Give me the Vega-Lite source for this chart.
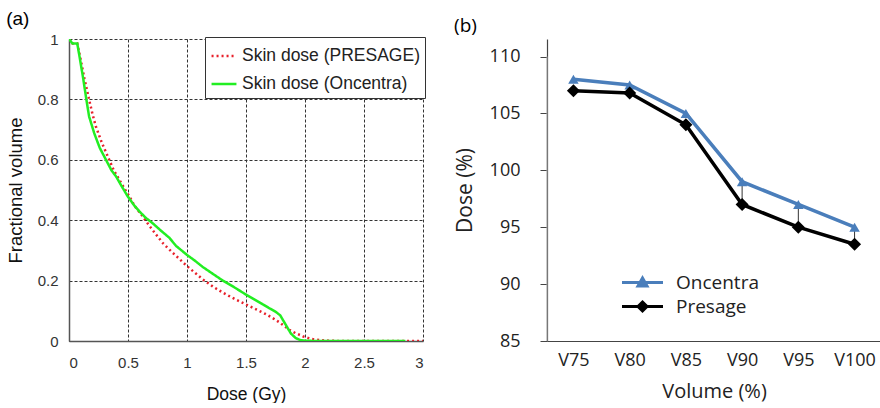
{
  "$schema": "https://vega.github.io/schema/vega-lite/v6.json",
  "padding": {"left": 6, "top": 10, "right": 0, "bottom": 0},
  "background": "white",
  "config": {"view": {"stroke": null}, "font": "Liberation Sans"},
  "spacing": 28,
  "resolve": {
    "scale": {"color": "independent", "strokeDash": "independent", "shape": "independent", "size": "independent", "stroke": "independent", "x": "independent", "y": "independent"},
    "legend": {"color": "independent", "strokeDash": "independent", "shape": "independent", "size": "independent", "stroke": "independent"}
  },
  "datasets": {
    "dvh": [
      {"series": "Skin dose (PRESAGE)", "dose": 0, "vol": 1.0},
      {"series": "Skin dose (PRESAGE)", "dose": 0.02, "vol": 0.99},
      {"series": "Skin dose (PRESAGE)", "dose": 0.03, "vol": 0.985},
      {"series": "Skin dose (PRESAGE)", "dose": 0.07, "vol": 0.985},
      {"series": "Skin dose (PRESAGE)", "dose": 0.1, "vol": 0.93},
      {"series": "Skin dose (PRESAGE)", "dose": 0.13, "vol": 0.87},
      {"series": "Skin dose (PRESAGE)", "dose": 0.17, "vol": 0.8},
      {"series": "Skin dose (PRESAGE)", "dose": 0.2, "vol": 0.75},
      {"series": "Skin dose (PRESAGE)", "dose": 0.227, "vol": 0.711},
      {"series": "Skin dose (PRESAGE)", "dose": 0.28, "vol": 0.655},
      {"series": "Skin dose (PRESAGE)", "dose": 0.34, "vol": 0.601},
      {"series": "Skin dose (PRESAGE)", "dose": 0.38, "vol": 0.565},
      {"series": "Skin dose (PRESAGE)", "dose": 0.425, "vol": 0.535},
      {"series": "Skin dose (PRESAGE)", "dose": 0.47, "vol": 0.505},
      {"series": "Skin dose (PRESAGE)", "dose": 0.51, "vol": 0.48},
      {"series": "Skin dose (PRESAGE)", "dose": 0.56, "vol": 0.445},
      {"series": "Skin dose (PRESAGE)", "dose": 0.624, "vol": 0.413},
      {"series": "Skin dose (PRESAGE)", "dose": 0.68, "vol": 0.382},
      {"series": "Skin dose (PRESAGE)", "dose": 0.737, "vol": 0.353},
      {"series": "Skin dose (PRESAGE)", "dose": 0.8, "vol": 0.322},
      {"series": "Skin dose (PRESAGE)", "dose": 0.879, "vol": 0.292},
      {"series": "Skin dose (PRESAGE)", "dose": 0.94, "vol": 0.27},
      {"series": "Skin dose (PRESAGE)", "dose": 1.0, "vol": 0.248},
      {"series": "Skin dose (PRESAGE)", "dose": 1.07, "vol": 0.225},
      {"series": "Skin dose (PRESAGE)", "dose": 1.134, "vol": 0.204},
      {"series": "Skin dose (PRESAGE)", "dose": 1.22, "vol": 0.18},
      {"series": "Skin dose (PRESAGE)", "dose": 1.304, "vol": 0.16},
      {"series": "Skin dose (PRESAGE)", "dose": 1.4, "vol": 0.14},
      {"series": "Skin dose (PRESAGE)", "dose": 1.5, "vol": 0.121},
      {"series": "Skin dose (PRESAGE)", "dose": 1.59, "vol": 0.104},
      {"series": "Skin dose (PRESAGE)", "dose": 1.673, "vol": 0.088},
      {"series": "Skin dose (PRESAGE)", "dose": 1.73, "vol": 0.075},
      {"series": "Skin dose (PRESAGE)", "dose": 1.786, "vol": 0.061},
      {"series": "Skin dose (PRESAGE)", "dose": 1.83, "vol": 0.048},
      {"series": "Skin dose (PRESAGE)", "dose": 1.871, "vol": 0.036},
      {"series": "Skin dose (PRESAGE)", "dose": 1.92, "vol": 0.026},
      {"series": "Skin dose (PRESAGE)", "dose": 1.985, "vol": 0.015},
      {"series": "Skin dose (PRESAGE)", "dose": 2.05, "vol": 0.007},
      {"series": "Skin dose (PRESAGE)", "dose": 2.12, "vol": 0.003},
      {"series": "Skin dose (PRESAGE)", "dose": 2.2, "vol": 0.001},
      {"series": "Skin dose (PRESAGE)", "dose": 2.3, "vol": 0},
      {"series": "Skin dose (PRESAGE)", "dose": 3.0, "vol": 0},
      {"series": "Skin dose (Oncentra)", "dose": 0, "vol": 1.0},
      {"series": "Skin dose (Oncentra)", "dose": 0.02, "vol": 0.99},
      {"series": "Skin dose (Oncentra)", "dose": 0.03, "vol": 0.985},
      {"series": "Skin dose (Oncentra)", "dose": 0.07, "vol": 0.985},
      {"series": "Skin dose (Oncentra)", "dose": 0.09, "vol": 0.94},
      {"series": "Skin dose (Oncentra)", "dose": 0.12, "vol": 0.87},
      {"series": "Skin dose (Oncentra)", "dose": 0.147, "vol": 0.8},
      {"series": "Skin dose (Oncentra)", "dose": 0.17, "vol": 0.744},
      {"series": "Skin dose (Oncentra)", "dose": 0.213, "vol": 0.689},
      {"series": "Skin dose (Oncentra)", "dose": 0.26, "vol": 0.64},
      {"series": "Skin dose (Oncentra)", "dose": 0.312, "vol": 0.601},
      {"series": "Skin dose (Oncentra)", "dose": 0.36, "vol": 0.565},
      {"series": "Skin dose (Oncentra)", "dose": 0.397, "vol": 0.546},
      {"series": "Skin dose (Oncentra)", "dose": 0.45, "vol": 0.51},
      {"series": "Skin dose (Oncentra)", "dose": 0.496, "vol": 0.48},
      {"series": "Skin dose (Oncentra)", "dose": 0.55, "vol": 0.45},
      {"series": "Skin dose (Oncentra)", "dose": 0.595, "vol": 0.43},
      {"series": "Skin dose (Oncentra)", "dose": 0.65, "vol": 0.408},
      {"series": "Skin dose (Oncentra)", "dose": 0.709, "vol": 0.39},
      {"series": "Skin dose (Oncentra)", "dose": 0.78, "vol": 0.365},
      {"series": "Skin dose (Oncentra)", "dose": 0.85, "vol": 0.342},
      {"series": "Skin dose (Oncentra)", "dose": 0.907, "vol": 0.315},
      {"series": "Skin dose (Oncentra)", "dose": 1.0, "vol": 0.285},
      {"series": "Skin dose (Oncentra)", "dose": 1.07, "vol": 0.265},
      {"series": "Skin dose (Oncentra)", "dose": 1.134, "vol": 0.245},
      {"series": "Skin dose (Oncentra)", "dose": 1.22, "vol": 0.222},
      {"series": "Skin dose (Oncentra)", "dose": 1.304, "vol": 0.2},
      {"series": "Skin dose (Oncentra)", "dose": 1.4, "vol": 0.178},
      {"series": "Skin dose (Oncentra)", "dose": 1.49, "vol": 0.156},
      {"series": "Skin dose (Oncentra)", "dose": 1.57, "vol": 0.138},
      {"series": "Skin dose (Oncentra)", "dose": 1.644, "vol": 0.121},
      {"series": "Skin dose (Oncentra)", "dose": 1.7, "vol": 0.108},
      {"series": "Skin dose (Oncentra)", "dose": 1.754, "vol": 0.096},
      {"series": "Skin dose (Oncentra)", "dose": 1.79, "vol": 0.085},
      {"series": "Skin dose (Oncentra)", "dose": 1.82, "vol": 0.065},
      {"series": "Skin dose (Oncentra)", "dose": 1.85, "vol": 0.045},
      {"series": "Skin dose (Oncentra)", "dose": 1.88, "vol": 0.025},
      {"series": "Skin dose (Oncentra)", "dose": 1.92, "vol": 0.01},
      {"series": "Skin dose (Oncentra)", "dose": 1.96, "vol": 0.003},
      {"series": "Skin dose (Oncentra)", "dose": 2.0, "vol": 0.001},
      {"series": "Skin dose (Oncentra)", "dose": 2.1, "vol": 0},
      {"series": "Skin dose (Oncentra)", "dose": 2.85, "vol": 0}
    ],
    "bvals": [
      {"series": "Oncentra", "vol": "V75", "dose": 108},
      {"series": "Oncentra", "vol": "V80", "dose": 107.5},
      {"series": "Oncentra", "vol": "V85", "dose": 105},
      {"series": "Oncentra", "vol": "V90", "dose": 99},
      {"series": "Oncentra", "vol": "V95", "dose": 97},
      {"series": "Oncentra", "vol": "V100", "dose": 95},
      {"series": "Presage", "vol": "V75", "dose": 107},
      {"series": "Presage", "vol": "V80", "dose": 106.8},
      {"series": "Presage", "vol": "V85", "dose": 104},
      {"series": "Presage", "vol": "V90", "dose": 97},
      {"series": "Presage", "vol": "V95", "dose": 95},
      {"series": "Presage", "vol": "V100", "dose": 93.5}
    ],
    "branges": [
      {"vol": "V90", "lo": 97, "hi": 99},
      {"vol": "V95", "lo": 95, "hi": 97},
      {"vol": "V100", "lo": 93.5, "hi": 95}
    ],
    "btop": [{"level": 110}]
  },
  "hconcat": [
    {
      "title": {"text": "(a)", "anchor": "start", "fontSize": 19, "fontWeight": "normal", "font": "Liberation Sans", "color": "#000", "offset": 3},
      "width": 354,
      "height": 302,
      "data": {"name": "dvh"},
      "mark": {"type": "line", "strokeWidth": 2.5, "clip": true},
      "encoding": {
        "x": {"field": "dose", "type": "quantitative", "scale": {"domain": [0, 3], "nice": false},
          "axis": {"values": [0, 0.5, 1, 1.5, 2, 2.5, 3], "format": "~g", "title": "Dose (Gy)", "grid": true, "gridDash": [3, 2], "gridColor": "#333", "gridOpacity": 1, "gridWidth": 1, "ticks": false, "labelPadding": 14, "labelFontSize": 15, "labelColor": "#333", "labelFont": "Liberation Sans", "titleFont": "Liberation Sans", "titleFontSize": 17.5, "titleFontWeight": "normal", "titleColor": "#111", "titlePadding": 15, "domainColor": "#555", "domainWidth": 1.5}},
        "y": {"field": "vol", "type": "quantitative", "scale": {"domain": [0, 1], "nice": false},
          "axis": {"values": [0, 0.2, 0.4, 0.6, 0.8, 1], "format": "~g", "title": "Fractional volume", "grid": true, "gridDash": [3, 2], "gridColor": "#333", "gridOpacity": 1, "gridWidth": 1, "ticks": false, "labelPadding": 11, "labelFontSize": 15, "labelColor": "#333", "labelFont": "Liberation Sans", "titleFont": "Liberation Sans", "titleFontSize": 18.5, "titleFontWeight": "normal", "titleColor": "#111", "titlePadding": 12, "domainColor": "#555", "domainWidth": 1.5}},
        "color": {"field": "series", "type": "nominal",
          "scale": {"domain": ["Skin dose (PRESAGE)", "Skin dose (Oncentra)"], "range": ["#e8202a", "#22ee22"]},
          "legend": {"title": null, "orient": "top-right", "offset": -2, "strokeColor": "#333", "fillColor": "white", "padding": 5, "labelFontSize": 17.5, "labelFont": "Liberation Sans", "labelColor": "#222", "labelLimit": 400, "symbolType": "stroke", "symbolSize": 620, "symbolStrokeWidth": 2.5, "rowPadding": 5, "labelOffset": 4}},
        "strokeDash": {"field": "series", "type": "nominal",
          "scale": {"domain": ["Skin dose (PRESAGE)", "Skin dose (Oncentra)"], "range": [[2, 3], [1, 0]]},
          "legend": {"title": null, "orient": "top-right", "offset": -2, "strokeColor": "#333", "fillColor": "white", "padding": 5, "labelFontSize": 17.5, "labelFont": "Liberation Sans", "labelColor": "#222", "labelLimit": 400, "symbolType": "stroke", "symbolSize": 620, "symbolStrokeWidth": 2.5, "rowPadding": 5, "labelOffset": 4}}
      }
    },
    {
      "title": {"text": "(b)", "anchor": "start", "fontSize": 19, "fontWeight": "normal", "font": "Open Sans", "color": "#000", "offset": 3},
      "width": 334,
      "height": 302,
      "layer": [
        {
          "data": {"name": "btop"},
          "mark": {"type": "rule", "color": "#aaa", "strokeWidth": 1},
          "encoding": {"y": {"field": "level", "type": "quantitative"}}
        },
        {
          "data": {"name": "branges"},
          "mark": {"type": "rule", "color": "#333", "strokeWidth": 1},
          "encoding": {
            "x": {"field": "vol", "type": "nominal"},
            "y": {"field": "lo", "type": "quantitative"},
            "y2": {"field": "hi"}
          }
        },
        {
          "data": {"name": "bvals"},
          "transform": [{"filter": "datum.series === 'Oncentra'"}],
          "mark": {"type": "line", "strokeWidth": 3.5, "color": "#4a7ebb"},
          "encoding": {
            "x": {"field": "vol", "type": "nominal"},
            "y": {"field": "dose", "type": "quantitative"}
          }
        },
        {
          "data": {"name": "bvals"},
          "transform": [{"filter": "datum.series === 'Presage'"}],
          "mark": {"type": "line", "strokeWidth": 3.5, "color": "#000000"},
          "encoding": {
            "x": {"field": "vol", "type": "nominal"},
            "y": {"field": "dose", "type": "quantitative"}
          }
        },
        {
          "data": {"name": "bvals"},
          "transform": [{"filter": "datum.series === 'Oncentra'"}],
          "mark": {"type": "point", "filled": true, "opacity": 1, "shape": "triangle-up", "size": 110, "color": "#4a7ebb"},
          "encoding": {
            "x": {"field": "vol", "type": "nominal"},
            "y": {"field": "dose", "type": "quantitative"}
          }
        },
        {
          "data": {"name": "bvals"},
          "transform": [{"filter": "datum.series === 'Presage'"}],
          "mark": {"type": "point", "filled": true, "opacity": 1, "shape": "diamond", "size": 170, "color": "#000000"},
          "encoding": {
            "x": {"field": "vol", "type": "nominal"},
            "y": {"field": "dose", "type": "quantitative"}
          }
        },
        {
          "data": {"name": "bvals"},
          "mark": {"type": "point", "filled": true, "opacity": 0, "strokeWidth": 3},
          "encoding": {
            "x": {"field": "vol", "type": "nominal"},
            "y": {"field": "dose", "type": "quantitative"},
            "color": {"field": "series", "type": "nominal",
              "scale": {"domain": ["Oncentra", "Presage"], "range": ["#4a7ebb", "#000000"]},
              "legend": {"title": null, "orient": "none", "legendX": 86, "legendY": 234, "padding": 0, "labelFontSize": 19, "labelFont": "Open Sans", "labelColor": "#222", "symbolSize": 100, "symbolOpacity": 1, "symbolStrokeWidth": 3, "labelOffset": 24, "rowPadding": 3}},
            "stroke": {"field": "series", "type": "nominal",
              "scale": {"domain": ["Oncentra", "Presage"], "range": ["#4a7ebb", "#000000"]},
              "legend": {"title": null, "orient": "none", "legendX": 86, "legendY": 234, "padding": 0, "labelFontSize": 19, "labelFont": "Open Sans", "labelColor": "#222", "symbolSize": 100, "symbolOpacity": 1, "symbolStrokeWidth": 3, "labelOffset": 24, "rowPadding": 3}},
            "shape": {"field": "series", "type": "nominal",
              "scale": {"domain": ["Oncentra", "Presage"], "range": ["M-4.1,0H4.1M0,-0.9L0.9,0.7L-0.9,0.7Z", "M-4.1,0H4.1M0,-0.9L0.9,0L0,0.9L-0.9,0Z"]},
              "legend": {"title": null, "orient": "none", "legendX": 86, "legendY": 234, "padding": 0, "labelFontSize": 19, "labelFont": "Open Sans", "labelColor": "#222", "symbolSize": 100, "symbolOpacity": 1, "symbolStrokeWidth": 3, "labelOffset": 24, "rowPadding": 3}}
          }
        }
      ],
      "encoding": {
        "x": {"field": "vol", "type": "nominal",
          "scale": {"type": "point", "padding": 0.47, "domain": ["V75", "V80", "V85", "V90", "V95", "V100"]},
          "axis": {"title": "Volume (%)", "labelAngle": 0, "ticks": false, "labelPadding": 10, "labelFontSize": 18, "labelFont": "Open Sans", "labelColor": "#222", "titleFont": "Open Sans", "titleFontSize": 20, "titleFontWeight": "normal", "titleColor": "#222", "titlePadding": 12, "domainColor": "#444", "domainWidth": 1.2}},
        "y": {"type": "quantitative",
          "scale": {"domain": [85, 111.54], "nice": false, "zero": false},
          "axis": {"values": [85, 90, 95, 100, 105, 110], "title": "Dose (%)", "grid": false, "tickSize": 7, "tickColor": "#444", "labelPadding": 20, "labelFontSize": 18, "labelFont": "Open Sans", "labelColor": "#222", "titleFont": "Open Sans", "titleFontSize": 21, "titleFontWeight": "normal", "titleColor": "#222", "titlePadding": 14, "domainColor": "#444", "domainWidth": 1.2}}
      }
    }
  ]
}
